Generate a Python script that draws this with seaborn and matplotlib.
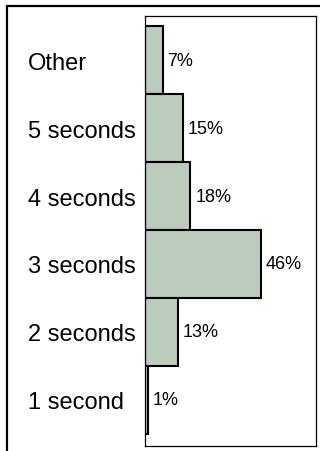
import matplotlib
matplotlib.use("Agg")
import matplotlib.pyplot as plt
import seaborn as sns
import pandas as pd
from matplotlib.patches import Rectangle

# response time shares, top to bottom as in the chart
categories = ["Other", "5 seconds", "4 seconds", "3 seconds", "2 seconds", "1 second"]
shares = [7, 15, 18, 46, 13, 1]
pct_labels = ["7%", "15%", "18%", "46%", "13%", "1%"]

sns.set_style("white")
plt.rcParams["font.family"] = ["Liberation Sans", "DejaVu Sans"]
plt.rcParams["text.color"] = "black"
plt.rcParams["ytick.color"] = "black"
plt.rcParams["ytick.labelcolor"] = "black"

df = pd.DataFrame({"category": categories, "share": shares})

fig = plt.figure(figsize=(3.2, 4.52), dpi=100)
ax = fig.add_axes([145 / 320, 1 - 447 / 452, 171 / 320, 430 / 452])

sns.barplot(data=df, x="share", y="category", order=categories, orient="h",
            width=1.0, color="#bccbbb", saturation=1, edgecolor="black",
            linewidth=1.5, ax=ax)

ax.bar_label(ax.containers[0], labels=pct_labels, padding=3.5, fontsize=13,
             color="black")

ax.set_xlim(0, 68)
ax.set_ylim(5.68, -0.65)
ax.set_xlabel("")
ax.set_ylabel("")
ax.set_xticks([])
ax.tick_params(axis="y", length=0, pad=84, labelsize=17, labelcolor="black")
for lbl in ax.get_yticklabels():
    lbl.set_horizontalalignment("left")
for s in ax.spines.values():
    s.set_visible(True)
    s.set_color("black")
    s.set_linewidth(0.9)

# outer frame around the whole graphic
fig.patches.append(Rectangle((7 / 320, -0.2), 1.2, 1.2 - 7 / 452,
                             transform=fig.transFigure, fill=False,
                             edgecolor="black", linewidth=1.6))

fig.savefig("out.png", dpi=100)
